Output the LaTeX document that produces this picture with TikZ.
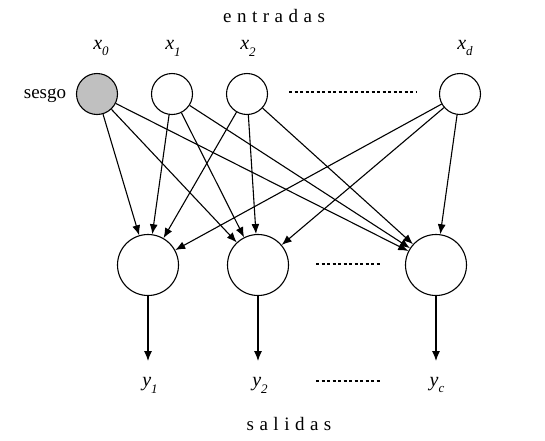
\documentclass[tikz,border=0pt]{standalone}
\usepackage{fontspec}
\setmainfont{Liberation Serif}
\usetikzlibrary{arrows.meta}
\newcommand{\sbs}[1]{\raisebox{-0.75ex}{\fontsize{13}{14}\selectfont #1}}
\newcommand{\spc}{\hspace{5.5pt}}
\begin{document}
\begin{tikzpicture}[x=1pt,y=-1pt,
  neuron/.style={circle,draw,line width=1.1pt,inner sep=0pt,minimum size=#1},
  conn/.style={line width=1.1pt,-{Latex[length=10pt,width=8pt]}},
  dots/.style={line width=1.1pt,dash pattern=on 3pt off 2.5pt},
  lbl/.style={font=\fontsize{20}{22}\selectfont\itshape},
  title/.style={font=\fontsize{19}{21}\selectfont}]
\useasboundingbox (0,0) rectangle (545,440);
% inputs
\node[neuron=41pt,fill={rgb,255:red,192;green,192;blue,192}] (x0) at (97,94) {};
\node[neuron=41pt] (x1) at (172,94) {};
\node[neuron=41pt] (x2) at (247,94) {};
\node[neuron=41pt] (xd) at (460,94) {};
% outputs
\node[neuron=61pt] (y1) at (148,265) {};
\node[neuron=61pt] (y2) at (258,265) {};
\node[neuron=61pt] (y3) at (436,265) {};
% labels
\node[title] (entr) at (274,16) {e\spc n\spc t\spc r\spc a\spc d\spc a\spc s};
\node[title] (sal) at (289,424) {s\spc a\spc l\spc i\spc d\spc a\spc s};
\node[title] (sesgo) at (45,96) {sesgo};
\node[lbl] (lx0) at (101,48) {x\sbs{0}};
\node[lbl] (lx1) at (173,48) {x\sbs{1}};
\node[lbl] (lx2) at (248,48) {x\sbs{2}};
\node[lbl] (lxd) at (465,48) {x\sbs{d}};
\node[lbl] (ly1) at (150,385) {y\sbs{1}};
\node[lbl] (ly2) at (260,385) {y\sbs{2}};
\node[lbl] (ly3) at (437,385) {y\sbs{c}};
% dotted
\coordinate (d1a) at (289,92); \coordinate (d1b) at (416,92);
\coordinate (d2a) at (316,264); \coordinate (d2b) at (381,264);
\coordinate (d3a) at (316,381); \coordinate (d3b) at (381,381);
\draw[dots] (d1a) -- (d1b);
\draw[dots] (d2a) -- (d2b);
\draw[dots] (d3a) -- (d3b);
% connections
\foreach \i in {x0,x1,x2,xd}{
  \foreach \o in {y1,y2,y3}{
    \draw[conn] (\i) -- (\o);
  }
}
% outputs
\coordinate (o1) at (148,361);
\coordinate (o2) at (258,361);
\coordinate (o3) at (436,361);
\draw[conn] (y1) -- (o1);
\draw[conn] (y2) -- (o2);
\draw[conn] (y3) -- (o3);
\end{tikzpicture}
\end{document}
